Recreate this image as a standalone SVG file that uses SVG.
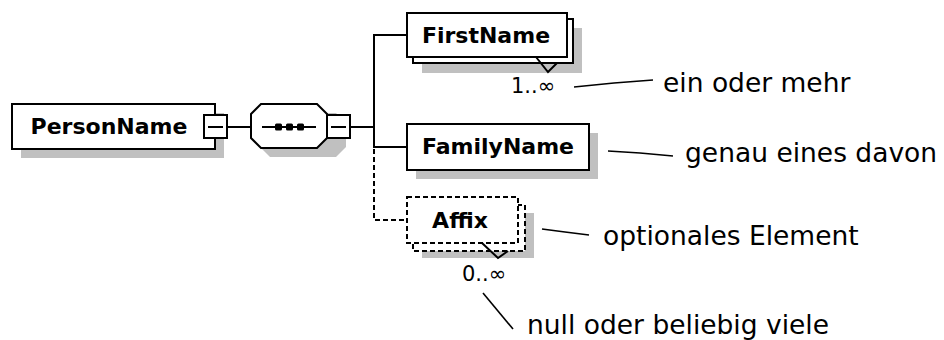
<svg xmlns="http://www.w3.org/2000/svg" width="944" height="340" viewBox="0 0 944 340">
<style>
.shadow{fill:#c0c0c0;stroke:none}
.box{fill:#fff;stroke:#000;stroke-width:2}
.dbox{fill:#fff;stroke:#000;stroke-width:2;stroke-dasharray:5 3}
.line{fill:none;stroke:#000;stroke-width:2}
.dline{fill:none;stroke:#000;stroke-width:2;stroke-dasharray:5 3}
.thin{fill:none;stroke:#000;stroke-width:1.6}
.name{font-family:"DejaVu Sans",sans-serif;font-weight:bold;font-size:22px;text-anchor:middle;fill:#000}
.note{font-family:"DejaVu Sans",sans-serif;font-size:26.5px;fill:#000}
.card{font-family:"DejaVu Sans",sans-serif;font-size:21px;fill:#000}
</style>
<rect width="944" height="340" fill="#fff"/>
<g id="connectors">
<line class="line" x1="227" y1="127" x2="251" y2="127"/>
<line class="line" x1="350" y1="127" x2="374" y2="127"/>
<polyline class="line" points="407,35 374,35 374,147 407,147"/>
<polyline class="dline" points="374,149 374,220 407,220"/>
<polyline class="thin" points="574,87 614,83 653,80"/>
<polyline class="thin" points="608,151 640,153 673,156"/>
<polyline class="thin" points="542,229 565,232 589,235"/>
<line class="thin" x1="483" y1="293" x2="513" y2="329"/>
</g>
<g id="PersonName">
<rect class="shadow" x="21" y="113" width="203" height="45"/>
<rect class="box" x="12" y="104" width="203" height="45"/>
<text class="name" x="109" y="134">PersonName</text>
<rect class="box" x="204" y="115" width="23" height="23"/>
<line class="line" x1="208" y1="127" x2="223" y2="127"/>
</g>
<g id="sequence">
<polygon class="shadow" points="270,113 336,113 346,123 346,147 336,157 270,157 260,147 260,123"/>
<polygon class="box" points="261,104 317,104 327,114 327,138 317,148 261,148 251,138 251,114"/>
<line class="line" x1="262" y1="127" x2="316" y2="127"/>
<rect x="275" y="123.5" width="7" height="7" rx="1.5" fill="#000"/>
<rect x="286" y="123.5" width="7" height="7" rx="1.5" fill="#000"/>
<rect x="297" y="123.5" width="7" height="7" rx="1.5" fill="#000"/>
<rect class="box" x="327" y="115" width="23" height="23"/>
<line class="line" x1="331" y1="127" x2="346" y2="127"/>
</g>
<g id="FirstName">
<rect class="shadow" x="422" y="28" width="160" height="45"/>
<rect class="box" x="413" y="19" width="160" height="44"/>
<rect class="box" x="407" y="13" width="160" height="44"/>
<text class="name" x="486" y="43">FirstName</text>
<polyline class="line" points="536,57 548,72 557,63"/>
<text class="card" x="511" y="93">1..∞</text>
</g>
<g id="FamilyName">
<rect class="shadow" x="416" y="133" width="182" height="46"/>
<rect class="box" x="407" y="124" width="182" height="46"/>
<text class="name" x="498" y="154">FamilyName</text>
</g>
<g id="Affix">
<rect class="shadow" x="422" y="213" width="112" height="45"/>
<rect class="dbox" x="413" y="205" width="112" height="46"/>
<rect class="dbox" x="407" y="197" width="111" height="46"/>
<text class="name" x="460" y="228">Affix</text>
<polyline class="line" points="482,243 498,258 508,251"/>
<text class="card" x="462" y="281">0..∞</text>
</g>
<g id="notes">
<text class="note" x="663" y="92">ein oder mehr</text>
<text class="note" x="685" y="162">genau eines davon</text>
<text class="note" x="603" y="245">optionales Element</text>
<text class="note" x="527" y="334">null oder beliebig viele</text>
</g>
</svg>
